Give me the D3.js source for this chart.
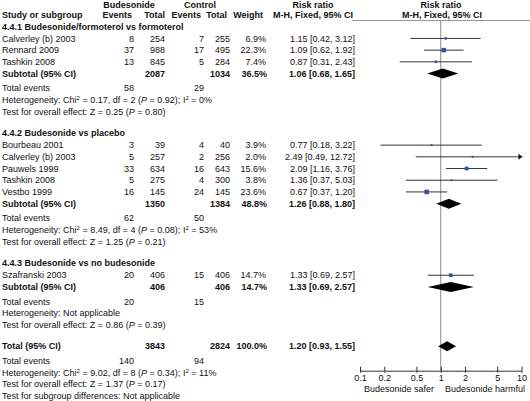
<!DOCTYPE html>
<html><head><meta charset="utf-8">
<script src="https://cdn.jsdelivr.net/npm/d3@7"></script>
<style>
html,body{margin:0;padding:0;background:#fff;}
svg{display:block;font-family:"Liberation Sans",Arial,sans-serif;font-size:9px;}
</style></head>
<body><svg id="c" width="530" height="401"></svg>
<script>
// ---------------- data ----------------
const subgroupTitles = ["4.4.1 Budesonide/formoterol vs formoterol","4.4.2 Budesonide vs placebo","4.4.3 Budesonide vs no budesonide"];
const studyNames = ["Calverley (b) 2003","Rennard 2009","Tashkin 2008",
  "Bourbeau 2001","Calverley (b) 2003","Pauwels 1999","Tashkin 2008","Vestbo 1999",
  "Szafranski 2003"];
const studyGroup = [0,0,0,1,1,1,1,1,2];
const budEvents = [8,37,13,3,5,33,5,16,20];
const budTotal = [254,988,845,39,257,634,275,145,406];
const ctlEvents = [7,17,5,4,2,16,4,24,15];
const ctlTotal = [255,495,284,40,256,643,300,145,406];
const weights = [6.9,22.3,7.4,3.9,2.0,15.6,3.8,23.6,14.7];
const rr = [1.15,1.09,0.87,0.77,2.49,2.09,1.36,0.67,1.33];
const rrLow = [0.42,0.62,0.31,0.18,0.49,1.16,0.37,0.37,0.69];
const rrHigh = [3.12,1.92,2.43,3.22,12.72,3.76,5.03,1.20,2.57];

const subBudTotal = [2087,1350,406];
const subCtlTotal = [1034,1384,406];
const subWeight = ["36.5%","48.8%","14.7%"];
const subRR = [1.06,1.26,1.33];
const subLow = [0.68,0.88,0.69];
const subHigh = [1.65,1.80,2.57];
const subBudEvents = [58,62,20];
const subCtlEvents = [29,50,15];
const subHet = [
  {chi:"0.17", df:"2", p:"0.92", i2:"0%"},
  {chi:"8.49", df:"4", p:"0.08", i2:"53%"},
  null];
const subZ = [{z:"0.25",p:"0.80"},{z:"1.25",p:"0.21"},{z:"0.86",p:"0.39"}];

const totalBud = 3843, totalCtl = 2824, totalWeight = "100.0%";
const totalRR = 1.20, totalLow = 0.93, totalHigh = 1.55;
const totalBudEvents = 140, totalCtlEvents = 94;
const totalHet = {chi:"9.02", df:"8", p:"0.34", i2:"11%"};
const totalZ = {z:"1.37", p:"0.17"};

const tickValues = [0.1,0.2,0.5,1,2,5,10];
const tickLabels = ["0.1","0.2","0.5","1","2","5","10"];
const axisLabels = ["Budesonide safer","Budesonide harmful"];

// ---------------- layout ----------------
const svg = d3.select("#c");
const lh = 11.7;
const y = d3.scaleLinear().domain([0,1]).range([4.5, 4.5+lh]);
const x = d3.scaleLog().domain([0.1,10]).range([360,521.5]);
const col = {name:2, be:134, bt:165, ce:204, ct:230, w:266, rr:355, i2:183};
const fmt = d3.format(".2f");
const txtCol = "#111";

function text(xp, yp, s, opts={}) {
  const t = svg.append("text").attr("x", xp).attr("y", yp).attr("dy","0.35em")
    .attr("fill", txtCol).attr("text-anchor", opts.anchor||"start");
  if (opts.bold) t.attr("font-weight","bold");
  t.text(s);
  return t;
}
function richText(xp, yp, parts) {
  const t = svg.append("text").attr("x", xp).attr("y", yp).attr("dy","0.35em").attr("fill", txtCol);
  parts.forEach(p => {
    const ts = t.append("tspan").text(p.t);
    if (p.i) ts.attr("font-style","italic");
    if (p.sup) ts.attr("font-size","6px").attr("dy","-3");
    if (p.down) ts.attr("dy","3");
  });
  return t;
}
function het(yp, h) {
  richText(col.name, yp, [{t:"Heterogeneity: Chi"},{t:"2",sup:true},{t:" = "+h.chi+", df = "+h.df+" (",down:true},{t:"P",i:true},{t:" = "+h.p+");"}]);
  richText(col.i2, yp, [{t:"I"},{t:"2",sup:true},{t:" = "+h.i2,down:true}]);
}
function zParts(z) {
  return [{t:"Test for overall effect: Z = "+z.z+" ("},{t:"P",i:true},{t:" = "+z.p+")"}];
}
const rrStr = (m,l,h) => fmt(m)+" ["+fmt(l)+", "+fmt(h)+"]";

// headers
text(129, y(0), "Budesonide", {anchor:"middle", bold:true});
text(200, y(0), "Control", {anchor:"middle", bold:true});
text(313, y(0), "Risk ratio", {anchor:"middle", bold:true});
text(441, y(0), "Risk ratio", {anchor:"middle", bold:true});
const h2 = y(0.9);
text(col.name, h2, "Study or subgroup", {bold:true});
text(132, h2, "Events", {anchor:"end", bold:true});
text(165, h2, "Total", {anchor:"end", bold:true});
text(201, h2, "Events", {anchor:"end", bold:true});
text(227, h2, "Total", {anchor:"end", bold:true});
text(263, h2, "Weight", {anchor:"end", bold:true});
text(353, h2, "M-H, Fixed, 95% CI", {anchor:"end", bold:true});
text(442, h2, "M-H, Fixed, 95% CI", {anchor:"middle", bold:true});

// compute slots
let slot = 1.88;
const studySlot = [], subSlot = [], sumSlot = [];
subgroupTitles.forEach((title, g) => {
  text(col.name, y(slot), title, {bold:true});
  slot += 1.02;
  studyNames.forEach((n,i) => { if (studyGroup[i]===g) { studySlot[i]=slot; slot+=1; } });
  subSlot[g] = slot;
  slot = subSlot[g] + 1.25;
  sumSlot[g] = slot;
  slot += 3.85;
});
const totalSlot = sumSlot[2] + 3.81;
const totSumSlot = totalSlot + 1.25;

const plotTop = 20.5, axisY = 370.7;

// header rule and null line
svg.append("line").attr("x1",352).attr("x2",530).attr("y1",plotTop).attr("y2",plotTop)
  .attr("stroke","#999").attr("stroke-width",1);
svg.append("line").attr("x1",x(1)).attr("x2",x(1)).attr("y1",plotTop).attr("y2",axisY)
  .attr("stroke","#888").attr("stroke-width",1);

// studies
studyNames.forEach((n,i) => {
  const yy = y(studySlot[i]);
  text(col.name, yy, n);
  text(col.be, yy, budEvents[i], {anchor:"end"});
  text(col.bt, yy, budTotal[i], {anchor:"end"});
  text(col.ce, yy, ctlEvents[i], {anchor:"end"});
  text(col.ct, yy, ctlTotal[i], {anchor:"end"});
  text(col.w, yy, weights[i].toFixed(1)+"%", {anchor:"end"});
  text(col.rr, yy, rrStr(rr[i], rrLow[i], rrHigh[i]), {anchor:"end"});
  const hi = Math.min(rrHigh[i], 10), lo = Math.max(rrLow[i], 0.1);
  svg.append("line").attr("x1",x(lo)).attr("x2",x(hi)).attr("y1",yy).attr("y2",yy)
    .attr("stroke","#333").attr("stroke-width",1);
  if (rrHigh[i] > 10) {
    const ax = x(10);
    svg.append("path").attr("d",`M${ax+1},${yy} L${ax-3},${yy-3} L${ax-3},${yy+3} Z`).attr("fill","#111");
  }
  const s = Math.max(2, 0.95*Math.sqrt(weights[i]));
  svg.append("rect").attr("x",x(rr[i])-s/2).attr("y",yy-s/2).attr("width",s).attr("height",s)
    .attr("fill","#3f4fa3");
});

function diamond(yy, m, l, h) {
  svg.append("path").attr("d",`M${x(l)},${yy} L${x(m)},${yy-5} L${x(h)},${yy} L${x(m)},${yy+5} Z`).attr("fill","#000");
}

subgroupTitles.forEach((t,g) => {
  const yy = y(subSlot[g]);
  text(col.name, yy, "Subtotal (95% CI)", {bold:true});
  text(col.bt, yy, subBudTotal[g], {anchor:"end", bold:true});
  text(col.ct, yy, subCtlTotal[g], {anchor:"end", bold:true});
  text(col.w+1, yy, subWeight[g], {anchor:"end", bold:true});
  text(col.rr, yy, rrStr(subRR[g], subLow[g], subHigh[g]), {anchor:"end", bold:true});
  diamond(yy, subRR[g], subLow[g], subHigh[g]);
  const s0 = sumSlot[g];
  text(col.name, y(s0), "Total events");
  text(col.be, y(s0), subBudEvents[g], {anchor:"end"});
  text(col.ce, y(s0), subCtlEvents[g], {anchor:"end"});
  if (subHet[g]) het(y(s0+1), subHet[g]);
  else text(col.name, y(s0+1), "Heterogeneity: Not applicable");
  richText(col.name, y(s0+2), zParts(subZ[g]));
});

// total
const ty = y(totalSlot);
text(col.name, ty, "Total (95% CI)", {bold:true});
text(col.bt, ty, totalBud, {anchor:"end", bold:true});
text(col.ct, ty, totalCtl, {anchor:"end", bold:true});
text(col.w+1, ty, totalWeight, {anchor:"end", bold:true});
text(col.rr, ty, rrStr(totalRR, totalLow, totalHigh), {anchor:"end", bold:true});
diamond(ty, totalRR, totalLow, totalHigh);
text(col.name, y(totSumSlot), "Total events");
text(col.be, y(totSumSlot), totalBudEvents, {anchor:"end"});
text(col.ce, y(totSumSlot), totalCtlEvents, {anchor:"end"});
het(y(totSumSlot+1), totalHet);
richText(col.name, y(totSumSlot+2), zParts(totalZ));
text(col.name, y(totSumSlot+3), "Test for subgroup differences: Not applicable");

// axis
const axis = d3.axisBottom(x).tickValues(tickValues).tickFormat((d,i)=>tickLabels[i]).tickSize(-4).tickSizeOuter(0);
const ag = svg.append("g").attr("transform",`translate(0,${axisY})`).call(axis);
ag.select(".domain").attr("stroke","#333");
ag.selectAll(".tick line").attr("stroke","#333").attr("y1",2);
ag.selectAll(".tick text").attr("font-size","9px").attr("font-family","Liberation Sans, Arial, sans-serif")
  .attr("fill",txtCol).attr("y",4);
text(434, axisY+18.5, axisLabels[0], {anchor:"end"});
text(445, axisY+18.5, axisLabels[1]);
</script></body></html>
